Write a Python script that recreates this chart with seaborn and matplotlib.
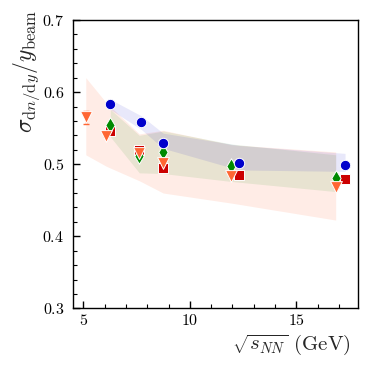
import numpy as np
import pandas as pd
import matplotlib
matplotlib.use("Agg")
import matplotlib.pyplot as plt
import seaborn as sns
from matplotlib.ticker import MultipleLocator

# ---- data ----
blue_x = [6.27, 7.73, 8.75, 12.31, 17.28]
blue_y = [0.583, 0.558, 0.530, 0.502, 0.499]
blue_band_lo = [0.576, 0.548, 0.522, 0.492, 0.490]
blue_band_hi = [0.590, 0.567, 0.543, 0.526, 0.515]

green_x = [6.27, 7.63, 8.75, 11.95, 16.84]
green_y = [0.555, 0.512, 0.517, 0.498, 0.481]
green_band_lo = [0.538, 0.488, 0.487, 0.476, 0.462]
green_band_hi = [0.576, 0.540, 0.546, 0.528, 0.513]

red_x = [6.27, 7.63, 8.75, 12.31, 17.28]
red_y = [0.546, 0.520, 0.495, 0.485, 0.479]

orange_x = [5.12, 6.09, 7.63, 8.75, 11.95, 16.84]
orange_y = [0.565, 0.539, 0.516, 0.501, 0.484, 0.468]
orange_err = [0.009, 0.0, 0.0, 0.0, 0.0, 0.0]
orange_band_lo = [0.513, 0.497, 0.477, 0.460, 0.446, 0.4225]
orange_band_hi = [0.620, 0.585, 0.542, 0.547, 0.527, 0.517]

xticks = [5, 10, 15]
yticks = [0.3, 0.4, 0.5, 0.6, 0.7]

sns.set_style("ticks")
plt.rcParams["font.family"] = ["serif"]
plt.rcParams["font.serif"] = ["cmr10", "DejaVu Serif"]
plt.rcParams["mathtext.fontset"] = "cm"
plt.rcParams["axes.formatter.use_mathtext"] = True

BLUE = "#0000cc"
GREEN = "#008a00"
RED = "#cc0000"
ORANGE = "#ff6633"

fig = plt.figure(figsize=(3.74, 3.77), dpi=100)
ax = fig.add_axes([0.194, 0.182, 0.764, 0.765])

# bands
ax.fill_between(orange_x, orange_band_lo, orange_band_hi, color=ORANGE, alpha=0.12, lw=0)
ax.fill_between(green_x, green_band_lo, green_band_hi, color=GREEN, alpha=0.09, lw=0)
ax.fill_between(blue_x, blue_band_lo, blue_band_hi, color=BLUE, alpha=0.09, lw=0)

# error bar on first orange point
ax.errorbar(orange_x, orange_y, yerr=orange_err, fmt="none", ecolor=ORANGE,
            elinewidth=1.0, capsize=2.5, zorder=2)

palette = {"orange": ORANGE, "red": RED, "green": GREEN, "blue": BLUE}
markers = {"orange": "v", "red": "s", "green": "d", "blue": "o"}
sizes = {"orange": 72, "red": 50, "green": 62, "blue": 56}
series = [("red", red_x, red_y), ("green", green_x, green_y),
          ("orange", orange_x, orange_y), ("blue", blue_x, blue_y)]
for i, (name, xs, ys) in enumerate(series):
    d = pd.DataFrame({"x": xs, "y": ys})
    sns.scatterplot(data=d, x="x", y="y", color=palette[name], marker=markers[name],
                    s=sizes[name], edgecolor="white", linewidth=0.7, legend=False,
                    ax=ax, zorder=3 + i)

ax.set_xlim(4.5, 17.9)
ax.set_ylim(0.3, 0.7)
ax.set_xticks(xticks)
ax.set_yticks(yticks)
ax.xaxis.set_minor_locator(MultipleLocator(1))
ax.yaxis.set_minor_locator(MultipleLocator(0.02))
ax.tick_params(which="both", direction="in", top=False, right=False, labelsize=11.5, colors="black")
ax.tick_params(which="major", length=5, width=1.0)
ax.tick_params(which="minor", length=3, width=0.8)
ax.tick_params(axis="y", which="major", pad=6)
for sp in ax.spines.values():
    sp.set_linewidth(1.0)
    sp.set_color("black")

ax.set_xlabel(r"$\sqrt{s_{NN}}$ (GeV)", fontsize=15)
ax.xaxis.set_label_coords(0.972, -0.085)
ax.xaxis.label.set_horizontalalignment("right")
ax.xaxis.label.set_verticalalignment("top")
ax.set_ylabel(r"$\sigma_{\mathrm{d}n/\mathrm{d}y}/y_{\mathrm{beam}}$", fontsize=17)
ax.yaxis.set_label_coords(-0.16, 1.035)
ax.yaxis.label.set_horizontalalignment("right")
ax.yaxis.label.set_verticalalignment("center")

fig.savefig("out.png", dpi=100)
